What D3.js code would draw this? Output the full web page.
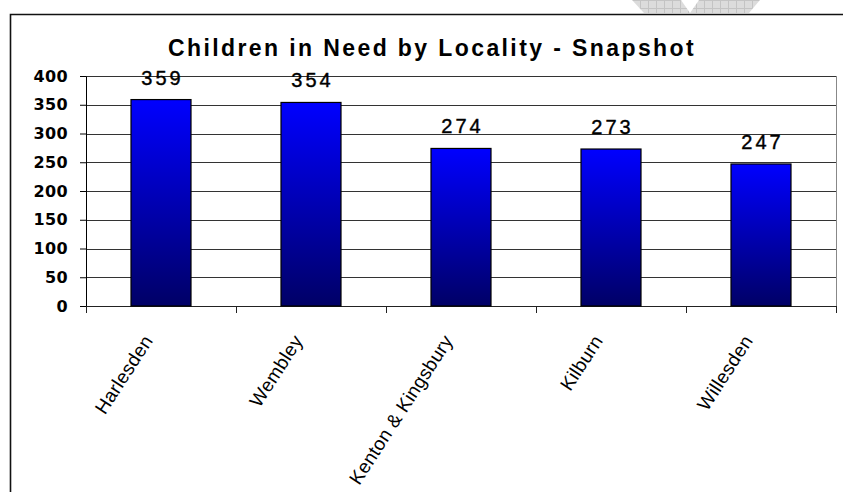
<!DOCTYPE html>
<html>
<head>
<meta charset="utf-8">
<script src="https://cdn.jsdelivr.net/npm/d3@7"></script>
<style>
body{margin:0;background:#fff;}
svg{display:block;}
</style>
</head>
<body>
<svg id="svg" width="843" height="492"></svg>
<script>
var localities=['Harlesden','Wembley','Kenton & Kingsbury','Kilburn','Willesden'];
var children=[359,354,274,273,247];
var yticks=[0,50,100,150,200,250,300,350,400];

var svg = d3.select("#svg");

var padding={top:76,right:7,bottom:186,left:86};

var chartarea={
	"width":843-padding.left-padding.right,
	"height":492-padding.top-padding.bottom
};

// watermark bits peeking in at the top
var defs=svg.append("defs");
var pat=defs.append("pattern").attr("id","hatch").attr("width",8).attr("height",8)
	.attr("patternUnits","userSpaceOnUse");
pat.append("rect").attr("width",8).attr("height",8).attr("fill","#dcdcdc");
pat.append("path").attr("d","M0,0.5H8M0.5,0V8").attr("stroke","#c4c4c4").attr("stroke-width",1);
svg.append("path").attr("d","M632,0 L681,0 L690,13 L644,13 Z").attr("fill","url(#hatch)");
svg.append("path").attr("d","M699,0 L760,0 L749,13 L690,13 Z").attr("fill","url(#hatch)");

// outer frame
svg.append("path").attr("d","M10.5,500 V14.5 H850")
	.attr("fill","none").attr("stroke","#111").attr("stroke-width",1.6);

var grad=defs.append("linearGradient").attr("id","barfill")
	.attr("x1",0).attr("y1",0).attr("x2",0).attr("y2",1);
grad.append("stop").attr("offset","0%").attr("stop-color","#0000ff");
grad.append("stop").attr("offset","100%").attr("stop-color","#000066");

var yscale=d3.scaleLinear()
.domain([0,400])
.range([chartarea.height,0]);

var xscale=d3.scaleBand()
.domain(localities)
.range([0,chartarea.width])
.paddingInner(.6)
.paddingOuter(.3);

var plot=svg.append("g")
.attr('transform','translate('+padding.left+','+padding.top+')');

// gridlines
plot.selectAll("line.grid").data(yticks.slice(1)).enter()
.append("line").classed("grid",true)
.attr("x1",0).attr("x2",chartarea.width)
.attr("y1",function(d){return Math.round(yscale(d))+0.5;})
.attr("y2",function(d){return Math.round(yscale(d))+0.5;})
.attr("stroke","#333").attr("stroke-width",1);

// right border of plot
plot.append("line")
.attr("x1",chartarea.width+0.5).attr("x2",chartarea.width+0.5)
.attr("y1",0).attr("y2",chartarea.height)
.attr("stroke","#888");

var yaxis=plot.append("g")
.classed("yaxis",true)
.call(d3.axisLeft(yscale).tickValues(yticks).tickSize(6).tickSizeOuter(0).tickPadding(12));

yaxis.select(".domain").attr("stroke","#000");
yaxis.selectAll(".tick line").attr("stroke","#000");
yaxis.selectAll(".tick text")
.attr("font-family","'DejaVu Sans', Verdana, sans-serif")
.attr("font-weight","bold")
.attr("font-size","16px")
.attr("letter-spacing","0.4px")
.attr("fill","#000");

// x axis line and boundary ticks
var xaxis=plot.append("g")
.classed("xaxis",true)
.attr('transform','translate(0,'+chartarea.height+')');

xaxis.append("line").attr("x1",0).attr("x2",chartarea.width)
.attr("y1",0.5).attr("y2",0.5).attr("stroke","#222");

xaxis.selectAll("line.tk").data(d3.range(localities.length+1)).enter()
.append("line").classed("tk",true)
.attr("x1",function(i){return Math.round(i*xscale.step())+0.5;})
.attr("x2",function(i){return Math.round(i*xscale.step())+0.5;})
.attr("y1",0).attr("y2",7).attr("stroke","#222");

xaxis.selectAll("text").data(localities).enter()
.append("text")
.attr("text-anchor","end")
.attr("dy","0.35em")
.attr("transform",function(d){
	var cx=xscale(d)+xscale.bandwidth()/2;
	return 'translate('+(cx-13)+',31) rotate(-57)';
})
.attr("font-family","'Liberation Sans', Arial, sans-serif")
.attr("font-size","19px")
.attr("letter-spacing","0.3px")
.attr("fill","#000")
.text(function(d){return d;});

// bars
plot.selectAll("rect.bar").data(localities).enter()
.append("rect").classed("bar",true)
.attr("x",function(d){return xscale(d);})
.attr("y",function(d,i){return yscale(children[i]);})
.attr("width",xscale.bandwidth())
.attr("height",function(d,i){return chartarea.height-yscale(children[i]);})
.attr("fill","url(#barfill)")
.attr("stroke","#000")
.attr("stroke-width",1.2);

// value labels
plot.selectAll("text.val").data(localities).enter()
.append("text").classed("val",true)
.attr("x",function(d){return xscale(d)+xscale.bandwidth()/2+1.5;})
.attr("y",function(d,i){return yscale(children[i])-15;})
.attr("text-anchor","middle")
.attr("font-family","'Liberation Sans', Arial, sans-serif")
.attr("font-size","20px")
.attr("letter-spacing","3px")
.attr("stroke","#000").attr("stroke-width",0.4)
.attr("fill","#000")
.text(function(d,i){return children[i];});

// title
svg.append("text")
.attr("x",432).attr("y",56)
.attr("text-anchor","middle")
.attr("font-family","'Liberation Sans', Arial, sans-serif")
.attr("font-weight","bold")
.attr("font-size","23px")
.attr("letter-spacing","2.4px")
.attr("fill","#000")
.text("Children in Need by Locality - Snapshot");
</script>
</body>
</html>
